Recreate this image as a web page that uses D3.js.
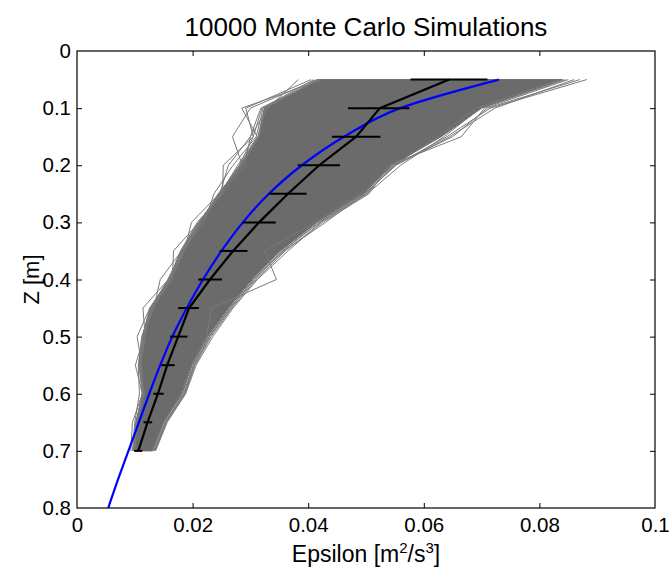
<!DOCTYPE html>
<html>
<head>
<meta charset="utf-8">
<script src="https://cdn.jsdelivr.net/npm/d3@7"></script>
<style>
  html, body { margin: 0; padding: 0; background: #fff; }
  svg { display: block; font-family: "Liberation Sans", Arial, Helvetica, sans-serif; }
</style>
</head>
<body>
<svg id="chart" width="669" height="571"></svg>
<script>
// Depth levels of the profile (m)
const depthLevels = [0.05, 0.10, 0.15, 0.20, 0.25, 0.30, 0.35, 0.40, 0.45, 0.50, 0.55, 0.60, 0.65, 0.70];

// Ensemble mean dissipation at each level, with error bar limits
const meanEps = [0.0644, 0.0524, 0.0483, 0.0419, 0.0365, 0.0315, 0.0270, 0.0230, 0.0194, 0.0175, 0.0156, 0.0140, 0.0122, 0.0106];
const errLow  = [0.0577, 0.0469, 0.0441, 0.0382, 0.0332, 0.0287, 0.0247, 0.0210, 0.0175, 0.0161, 0.0146, 0.0132, 0.0115, 0.0099];
const errHigh = [0.0710, 0.0575, 0.0525, 0.0455, 0.0397, 0.0344, 0.0295, 0.0251, 0.0211, 0.0191, 0.0169, 0.0150, 0.0130, 0.0113];

// Fitted profile (blue)
const fitDepth = [0.05, 0.10, 0.15, 0.20, 0.25, 0.30, 0.35, 0.40, 0.45, 0.50, 0.55, 0.60, 0.65, 0.70, 0.75, 0.80];
const fitEps   = [0.0730, 0.0559, 0.0462, 0.0389, 0.0332, 0.0287, 0.0250, 0.0218, 0.0190, 0.0165, 0.0144, 0.0125, 0.0107, 0.0089, 0.0071, 0.0054];

// Dense core of the simulation ensemble (left and right limits per level)
const coreLeft  = [0.0418, 0.0325, 0.0315, 0.0283, 0.0246, 0.0212, 0.0182, 0.0160, 0.0128, 0.0114, 0.0109, 0.0115, 0.0103, 0.0099];
const coreRight = [0.0840, 0.0700, 0.0630, 0.0545, 0.0495, 0.0415, 0.0352, 0.0303, 0.0262, 0.0226, 0.0199, 0.0182, 0.0150, 0.0131];

// Individual simulated profiles along the edges of the ensemble
const simLeft1  = [0.0383, 0.0330, 0.0300, 0.0290, 0.0250, 0.0215, 0.0185, 0.0162, 0.0130, 0.0116, 0.0110, 0.0116, 0.0104, 0.0100];
const simLeft2  = [0.0425, 0.0285, 0.0312, 0.0278, 0.0248, 0.0210, 0.0180, 0.0158, 0.0127, 0.0113, 0.0108, 0.0114, 0.0102, 0.0098];
const simLeft3  = [0.0405, 0.0292, 0.0305, 0.0281, 0.0247, 0.0213, 0.0183, 0.0160, 0.0129, 0.0115, 0.0109, 0.0115, 0.0103, 0.0099];
const simLeft4  = [0.0415, 0.0300, 0.0269, 0.0286, 0.0244, 0.0214, 0.0184, 0.0161, 0.0129, 0.0115, 0.0110, 0.0115, 0.0103, 0.0099];
const simLeft5  = [0.0410, 0.0320, 0.0305, 0.0253, 0.0252, 0.0208, 0.0179, 0.0159, 0.0126, 0.0113, 0.0107, 0.0113, 0.0102, 0.0097];
const simLeft6  = [0.0420, 0.0318, 0.0300, 0.0262, 0.0247, 0.0211, 0.0181, 0.0160, 0.0128, 0.0114, 0.0109, 0.0114, 0.0103, 0.0099];
const simLeft7  = [0.0420, 0.0322, 0.0310, 0.0270, 0.0237, 0.0220, 0.0183, 0.0157, 0.0128, 0.0114, 0.0109, 0.0114, 0.0103, 0.0099];
const simLeft8  = [0.0418, 0.0326, 0.0314, 0.0281, 0.0246, 0.0198, 0.0186, 0.0162, 0.0130, 0.0116, 0.0110, 0.0116, 0.0104, 0.0099];
const simLeft9  = [0.0416, 0.0324, 0.0313, 0.0282, 0.0245, 0.0211, 0.0167, 0.0165, 0.0131, 0.0115, 0.0109, 0.0115, 0.0103, 0.0098];
const simLeft10 = [0.0419, 0.0325, 0.0315, 0.0283, 0.0246, 0.0212, 0.0181, 0.0144, 0.0133, 0.0114, 0.0108, 0.0114, 0.0102, 0.0098];
const simLeft11 = [0.0418, 0.0325, 0.0315, 0.0283, 0.0246, 0.0212, 0.0182, 0.0158, 0.0114, 0.0118, 0.0110, 0.0115, 0.0103, 0.0099];
const simLeft12 = [0.0418, 0.0325, 0.0315, 0.0283, 0.0246, 0.0212, 0.0182, 0.0160, 0.0126, 0.0104, 0.0112, 0.0113, 0.0103, 0.0099];
const simLeft13 = [0.0418, 0.0325, 0.0315, 0.0283, 0.0246, 0.0212, 0.0182, 0.0160, 0.0129, 0.0116, 0.0101, 0.0113, 0.0096, 0.0093];
const simLeft14 = [0.0418, 0.0325, 0.0315, 0.0283, 0.0246, 0.0212, 0.0182, 0.0160, 0.0129, 0.0112, 0.0106, 0.0108, 0.0100, 0.0096];

const simRight1 = [0.0882, 0.0715, 0.0640, 0.0550, 0.0500, 0.0420, 0.0356, 0.0308, 0.0265, 0.0228, 0.0201, 0.0184, 0.0152, 0.0133];
const simRight2 = [0.0860, 0.0723, 0.0645, 0.0552, 0.0498, 0.0418, 0.0355, 0.0306, 0.0264, 0.0229, 0.0202, 0.0185, 0.0154, 0.0134];
const simRight3 = [0.0850, 0.0705, 0.0665, 0.0540, 0.0505, 0.0425, 0.0360, 0.0310, 0.0268, 0.0232, 0.0204, 0.0187, 0.0155, 0.0135];
const simRight4 = [0.0835, 0.0690, 0.0625, 0.0548, 0.0490, 0.0412, 0.0325, 0.0345, 0.0233, 0.0224, 0.0198, 0.0180, 0.0150, 0.0130];
const simRight5 = [0.0845, 0.0698, 0.0635, 0.0560, 0.0502, 0.0422, 0.0365, 0.0312, 0.0270, 0.0235, 0.0206, 0.0188, 0.0156, 0.0136];
const simRight6 = [0.0870, 0.0710, 0.0650, 0.0548, 0.0497, 0.0430, 0.0358, 0.0305, 0.0266, 0.0230, 0.0203, 0.0186, 0.0153, 0.0133];

const simProfiles = [simLeft1, simLeft2, simLeft3, simLeft4, simLeft5, simLeft6, simLeft7,
  simLeft8, simLeft9, simLeft10, simLeft11, simLeft12, simLeft13, simLeft14,
  simRight1, simRight2, simRight3, simRight4, simRight5, simRight6];

// Axis ticks
const xTicks = [0, 0.02, 0.04, 0.06, 0.08, 0.1];
const xTickLabels = ["0", "0.02", "0.04", "0.06", "0.08", "0.1"];
const yTicks = [0, 0.1, 0.2, 0.3, 0.4, 0.5, 0.6, 0.7, 0.8];
const yTickLabels = ["0", "0.1", "0.2", "0.3", "0.4", "0.5", "0.6", "0.7", "0.8"];

const svg = d3.select("#chart");
const plot = { left: 77, right: 655, top: 51, bottom: 508 };

const x = d3.scaleLinear().domain([0, 0.1]).range([plot.left, plot.right]);
const y = d3.scaleLinear().domain([0, 0.8]).range([plot.top, plot.bottom]);

svg.append("rect").attr("width", 669).attr("height", 571).attr("fill", "#fff");

svg.append("clipPath").attr("id", "plotClip")
  .append("rect")
  .attr("x", plot.left).attr("y", plot.top)
  .attr("width", plot.right - plot.left).attr("height", plot.bottom - plot.top);

const g = svg.append("g").attr("clip-path", "url(#plotClip)");

// Ensemble core
const coreArea = d3.area()
  .y((d, i) => y(depthLevels[i]))
  .x0((d, i) => x(coreLeft[i]))
  .x1((d, i) => x(coreRight[i]));
g.append("path")
  .datum(depthLevels)
  .attr("d", coreArea)
  .attr("fill", "#6b6b6b")
  .attr("stroke", "#6b6b6b")
  .attr("stroke-width", 1);

// Individual simulated profiles
const profileLine = d3.line()
  .x(d => x(d))
  .y((d, i) => y(depthLevels[i]));
g.selectAll("path.sim")
  .data(simProfiles)
  .join("path")
  .attr("class", "sim")
  .attr("d", profileLine)
  .attr("fill", "none")
  .attr("stroke", "#7a7a7a")
  .attr("stroke-width", 1);

// Fitted profile
const fitLine = d3.line()
  .x(d => x(d))
  .y((d, i) => y(fitDepth[i]))
  .curve(d3.curveMonotoneY);
g.append("path")
  .datum(fitEps)
  .attr("d", fitLine)
  .attr("fill", "none")
  .attr("stroke", "#0000ff")
  .attr("stroke-width", 2.2);

// Mean profile with horizontal error bars
const meanLine = d3.line()
  .x(d => x(d))
  .y((d, i) => y(depthLevels[i]));
g.append("path")
  .datum(meanEps)
  .attr("d", meanLine)
  .attr("fill", "none")
  .attr("stroke", "#000")
  .attr("stroke-width", 2.2);

g.selectAll("line.err")
  .data(depthLevels)
  .join("line")
  .attr("class", "err")
  .attr("x1", (d, i) => x(errLow[i]))
  .attr("x2", (d, i) => x(errHigh[i]))
  .attr("y1", d => y(d))
  .attr("y2", d => y(d))
  .attr("stroke", "#000")
  .attr("stroke-width", 2);

// Axes (ticks point inward, box style)
const tickFont = "20.5px";
const xAxis = svg.append("g")
  .attr("transform", `translate(0,${plot.bottom})`)
  .call(d3.axisBottom(x).tickValues(xTicks)
    .tickFormat((d, i) => xTickLabels[i])
    .tickSizeInner(-5).tickSizeOuter(0).tickPadding(9));
const yAxis = svg.append("g")
  .attr("transform", `translate(${plot.left},0)`)
  .call(d3.axisLeft(y).tickValues(yTicks)
    .tickFormat((d, i) => yTickLabels[i])
    .tickSizeInner(-5).tickSizeOuter(0).tickPadding(6));
const xAxisTop = svg.append("g")
  .attr("transform", `translate(0,${plot.top})`)
  .call(d3.axisTop(x).tickValues(xTicks).tickFormat("")
    .tickSizeInner(-5).tickSizeOuter(0));
const yAxisRight = svg.append("g")
  .attr("transform", `translate(${plot.right},0)`)
  .call(d3.axisRight(y).tickValues(yTicks).tickFormat("")
    .tickSizeInner(-5).tickSizeOuter(0));

[xAxis, yAxis, xAxisTop, yAxisRight].forEach(a => {
  a.select(".domain").remove();
  a.selectAll(".tick line").attr("stroke", "#000").attr("stroke-width", 1);
  a.selectAll(".tick text")
    .attr("fill", "#000")
    .style("font-size", tickFont)
    .style("font-family", '"Liberation Sans", Arial, Helvetica, sans-serif');
});
// Drop the end ticks that coincide with the box edges
[xAxis, xAxisTop].forEach(a => a.selectAll(".tick line").filter(d => d === 0 || d === 0.1).remove());
[yAxis, yAxisRight].forEach(a => a.selectAll(".tick line").filter(d => d === 0 || d === 0.8).remove());

svg.append("rect")
  .attr("x", plot.left).attr("y", plot.top)
  .attr("width", plot.right - plot.left).attr("height", plot.bottom - plot.top)
  .attr("fill", "none")
  .attr("stroke", "#000")
  .attr("stroke-width", 1.2);

// Title and axis labels
svg.append("text")
  .attr("x", (plot.left + plot.right) / 2)
  .attr("y", 36)
  .attr("text-anchor", "middle")
  .style("font-size", "26px")
  .text("10000 Monte Carlo Simulations");

const xLabel = svg.append("text")
  .attr("x", (plot.left + plot.right) / 2)
  .attr("y", 562)
  .attr("text-anchor", "middle")
  .style("font-size", "23px");
xLabel.append("tspan").text("Epsilon [m");
xLabel.append("tspan").attr("dy", -9).style("font-size", "15px").text("2");
xLabel.append("tspan").attr("dy", 9).text("/s");
xLabel.append("tspan").attr("dy", -9).style("font-size", "15px").text("3");
xLabel.append("tspan").attr("dy", 9).text("]");

svg.append("text")
  .attr("transform", `translate(39,${(plot.top + plot.bottom) / 2}) rotate(-90)`)
  .attr("text-anchor", "middle")
  .style("font-size", "22px")
  .text("Z [m]");
</script>
</body>
</html>
